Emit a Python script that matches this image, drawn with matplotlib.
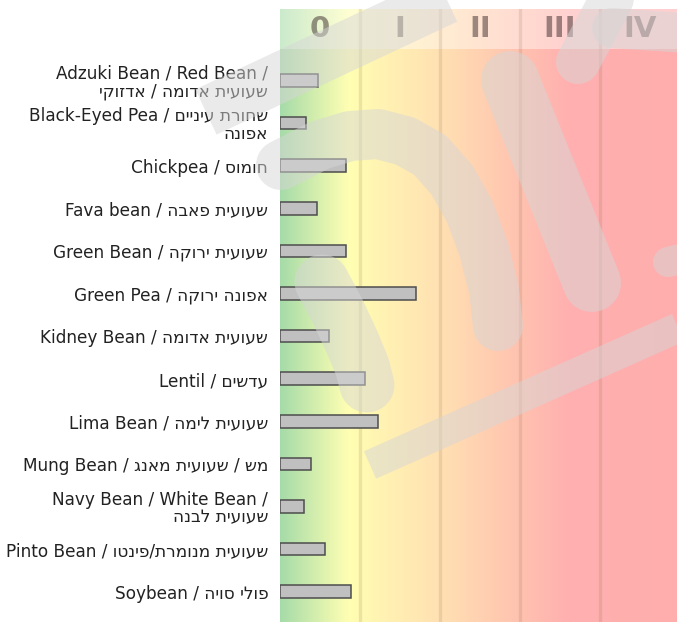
import re
import numpy as np
import matplotlib
matplotlib.use("Agg")
import matplotlib.pyplot as plt
from matplotlib.lines import Line2D

# ---------------- data ----------------
categories = [
    "Adzuki Bean / Red Bean /\nשעועית אדומה / אדזוקי",
    "Black-Eyed Pea / שחורת עיניים\nאפונה",
    "Chickpea / חומוס",
    "Fava bean / שעועית פאבה",
    "Green Bean / שעועית ירוקה",
    "Green Pea / אפונה ירוקה",
    "Kidney Bean / שעועית אדומה",
    "Lentil / עדשים",
    "Lima Bean / שעועית לימה",
    "Mung Bean / מש / שעועית מאנג",
    "Navy Bean / White Bean /\nשעועית לבנה",
    "Pinto Bean / שעועית מנומרת/פינטו",
    "Soybean / פולי סויה",
]
values = [4.7, 3.2, 8.2, 4.6, 8.2, 17.0, 6.1, 10.6, 12.2, 3.9, 3.0, 5.6, 8.9]
zone_labels = ["0", "I", "II", "III", "IV"]
zone_edges = [0, 10, 20, 30, 40, 50]

# --------------- helpers ---------------
HEB = "\u0590-\u05FF"
run_re = re.compile(f"[{HEB}](?:[{HEB}\\s/]*[{HEB}])?")


def visual(s):
    return "\n".join(run_re.sub(lambda m: m.group(0)[::-1], ln) for ln in s.split("\n"))


W, H = 677, 622
fig = plt.figure(figsize=(W / 100, H / 100), dpi=100)
fig.patch.set_facecolor("white")

ax_top_px = 9
ax = fig.add_axes([280 / W, 0, 400 / W, (H - ax_top_px) / H])

n = len(categories)
y = np.arange(n)
row_px = 42.6
first_px = 80.5
y_top = (ax_top_px - first_px) / row_px
y_bot = (H - first_px) / row_px
ax.set_xlim(zone_edges[0], zone_edges[-1])
ax.set_ylim(y_bot, y_top)

# background gradient
stops_x = [0, 8.5, 12, 20, 30, 36, 50]
stops_c = [
    (0.65, 0.86, 0.66),
    (1.00, 1.00, 0.70),
    (1.00, 0.96, 0.70),
    (1.00, 0.88, 0.70),
    (1.00, 0.76, 0.69),
    (1.00, 0.69, 0.69),
    (1.00, 0.68, 0.68),
]
gx = np.linspace(0, 50, 500)
grad = np.zeros((1, gx.size, 3))
for k in range(3):
    grad[0, :, k] = np.interp(gx, stops_x, [c[k] for c in stops_c])
ax.imshow(grad, extent=[0, 50, y_bot, y_top], aspect="auto", zorder=0,
          interpolation="bilinear")

# header band
band_bot = (49 - first_px) / row_px
ax.axhspan(y_top, band_bot, color="white", alpha=0.42, lw=0, zorder=1)

# zone separators
for xe in zone_edges[1:-1]:
    ax.axvline(xe, color="#7a5a3a", alpha=0.14, lw=2.4, zorder=1.5)

# zone labels
label_y = (29 - first_px) / row_px
for i, lab in enumerate(zone_labels):
    xc = (zone_edges[i] + zone_edges[i + 1]) / 2
    ax.text(xc, label_y, lab, ha="center", va="center", fontsize=21,
            fontweight="bold", color="#3a2a2a", alpha=0.5, zorder=2)

# bars
ax.barh(y, values, height=0.3, left=0, color="#c0c0c0", edgecolor="#4d4d4d",
        linewidth=1.1, zorder=3)

ax.set_yticks(y)
ax.set_yticklabels([visual(c) for c in categories], fontsize=12.2, color="#222222")
for lbl in ax.get_yticklabels():
    lbl.set_linespacing(1.0)
ax.tick_params(axis="y", length=0, pad=8.5)
ax.tick_params(axis="x", length=0, labelbottom=False)
for sp in ax.spines.values():
    sp.set_visible(False)

# --------------- watermark ---------------
def P(px, py):
    return px / W, 1 - py / H


def stroke(pts, w, cap="round"):
    xs, ys = zip(*[P(*p) for p in pts])
    fig.add_artist(Line2D(xs, ys, transform=fig.transFigure, color="#d6d6d6",
                          alpha=0.5, lw=w * 0.72, solid_capstyle=cap,
                          solid_joinstyle="round", zorder=10))


stroke([(206, 112), (470, -12)], 50, cap="butt")
stroke([(281, 165), (320, 145), (350, 136), (378, 134), (405, 141),
        (430, 155), (452, 180), (470, 212), (484, 250), (494, 290),
        (498, 326)], 50)
stroke([(322, 282), (338, 312), (352, 342), (362, 366), (367, 385)], 55)
stroke([(510, 80), (592, 283)], 58)
stroke([(578, 62), (622, -20)], 44)
stroke([(612, 28), (700, 34)], 40)
stroke([(370, 465), (720, 309)], 30, cap="butt")
stroke([(668, 262), (700, 254)], 30)

fig.savefig("out.png", dpi=100)
